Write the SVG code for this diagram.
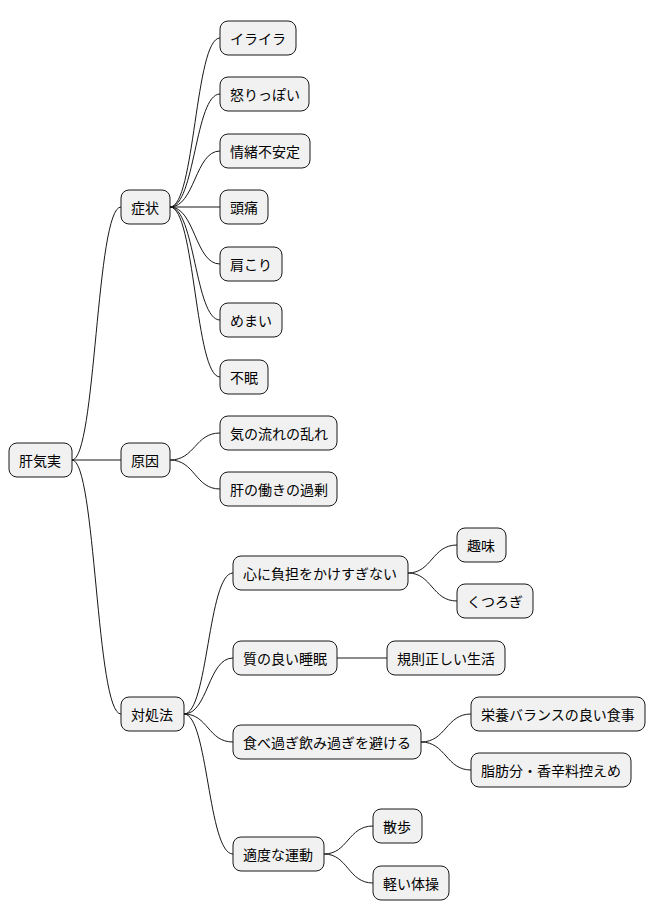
<svg xmlns="http://www.w3.org/2000/svg" width="656" height="921" viewBox="0 0 656 921">
<style>
.n rect{fill:#F1F1F1;stroke:#181818;stroke-width:1}
.n text{font-family:"Noto Sans CJK JP","Liberation Sans",sans-serif;font-size:14px;fill:#000;dominant-baseline:central}
#c path{fill:none;stroke:#181818;stroke-width:1}
</style>
<rect width="656" height="921" fill="#fff"/>
<g id="c">
<path d="M72,460 C96,460 96,207 121,207"/>
<path d="M72,460 L121,460"/>
<path d="M72,460 C96,460 96,714 121,714"/>
<path d="M170,207 C195,207 195,38 220,38"/>
<path d="M170,207 C195,207 195,94 220,94"/>
<path d="M170,207 C195,207 195,151 220,151"/>
<path d="M170,207 L220,207"/>
<path d="M170,207 C195,207 195,264 220,264"/>
<path d="M170,207 C195,207 195,320 220,320"/>
<path d="M170,207 C195,207 195,377 220,377"/>
<path d="M170,460 C195,460 195,433 220,433"/>
<path d="M170,460 C195,460 195,489 220,489"/>
<path d="M184,714 C208,714 208,573 233,573"/>
<path d="M184,714 C208,714 208,658 233,658"/>
<path d="M184,714 C208,714 208,742 233,742"/>
<path d="M184,714 C208,714 208,854 233,854"/>
<path d="M408,573 C432,573 432,545 457,545"/>
<path d="M408,573 C432,573 432,601 457,601"/>
<path d="M337,658 L387,658"/>
<path d="M421,742 C446,742 446,714 471,714"/>
<path d="M421,742 C446,742 446,770 471,770"/>
<path d="M324,854 C348,854 348,826 373,826"/>
<path d="M324,854 C348,854 348,883 373,883"/>
</g>
<g id="n0" class="n"><rect x="9" y="443" width="63" height="34" rx="8"/><text x="19" y="460">肝気実</text></g>
<g id="n1" class="n"><rect x="121" y="190" width="49" height="34" rx="8"/><text x="131" y="207">症状</text></g>
<g id="n2" class="n"><rect x="121" y="443" width="49" height="34" rx="8"/><text x="131" y="460">原因</text></g>
<g id="n3" class="n"><rect x="121" y="697" width="63" height="34" rx="8"/><text x="131" y="714">対処法</text></g>
<g id="n4" class="n"><rect x="220" y="21" width="76" height="34" rx="8"/><text x="230" y="38">イライラ</text></g>
<g id="n5" class="n"><rect x="220" y="77" width="89" height="34" rx="8"/><text x="230" y="94">怒りっぽい</text></g>
<g id="n6" class="n"><rect x="220" y="134" width="90" height="34" rx="8"/><text x="230" y="151">情緒不安定</text></g>
<g id="n7" class="n"><rect x="220" y="190" width="48" height="34" rx="8"/><text x="230" y="207">頭痛</text></g>
<g id="n8" class="n"><rect x="220" y="247" width="62" height="34" rx="8"/><text x="230" y="264">肩こり</text></g>
<g id="n9" class="n"><rect x="220" y="303" width="62" height="34" rx="8"/><text x="230" y="320">めまい</text></g>
<g id="n10" class="n"><rect x="220" y="360" width="48" height="34" rx="8"/><text x="230" y="377">不眠</text></g>
<g id="n11" class="n"><rect x="220" y="416" width="117" height="34" rx="8"/><text x="230" y="433">気の流れの乱れ</text></g>
<g id="n12" class="n"><rect x="220" y="472" width="117" height="34" rx="8"/><text x="230" y="489">肝の働きの過剰</text></g>
<g id="n13" class="n"><rect x="233" y="556" width="175" height="34" rx="8"/><text x="243" y="573">心に負担をかけすぎない</text></g>
<g id="n14" class="n"><rect x="233" y="641" width="104" height="34" rx="8"/><text x="243" y="658">質の良い睡眠</text></g>
<g id="n15" class="n"><rect x="233" y="725" width="188" height="34" rx="8"/><text x="243" y="742">食べ過ぎ飲み過ぎを避ける</text></g>
<g id="n16" class="n"><rect x="233" y="837" width="91" height="34" rx="8"/><text x="243" y="854">適度な運動</text></g>
<g id="n17" class="n"><rect x="457" y="528" width="49" height="34" rx="8"/><text x="467" y="545">趣味</text></g>
<g id="n18" class="n"><rect x="457" y="584" width="76" height="34" rx="8"/><text x="467" y="601">くつろぎ</text></g>
<g id="n19" class="n"><rect x="387" y="641" width="118" height="34" rx="8"/><text x="397" y="658">規則正しい生活</text></g>
<g id="n20" class="n"><rect x="471" y="697" width="174" height="34" rx="8"/><text x="481" y="714">栄養バランスの良い食事</text></g>
<g id="n21" class="n"><rect x="471" y="753" width="160" height="34" rx="8"/><text x="481" y="770">脂肪分・香辛料控えめ</text></g>
<g id="n22" class="n"><rect x="373" y="809" width="49" height="34" rx="8"/><text x="383" y="826">散歩</text></g>
<g id="n23" class="n"><rect x="373" y="866" width="76" height="34" rx="8"/><text x="383" y="883">軽い体操</text></g>
</svg>
